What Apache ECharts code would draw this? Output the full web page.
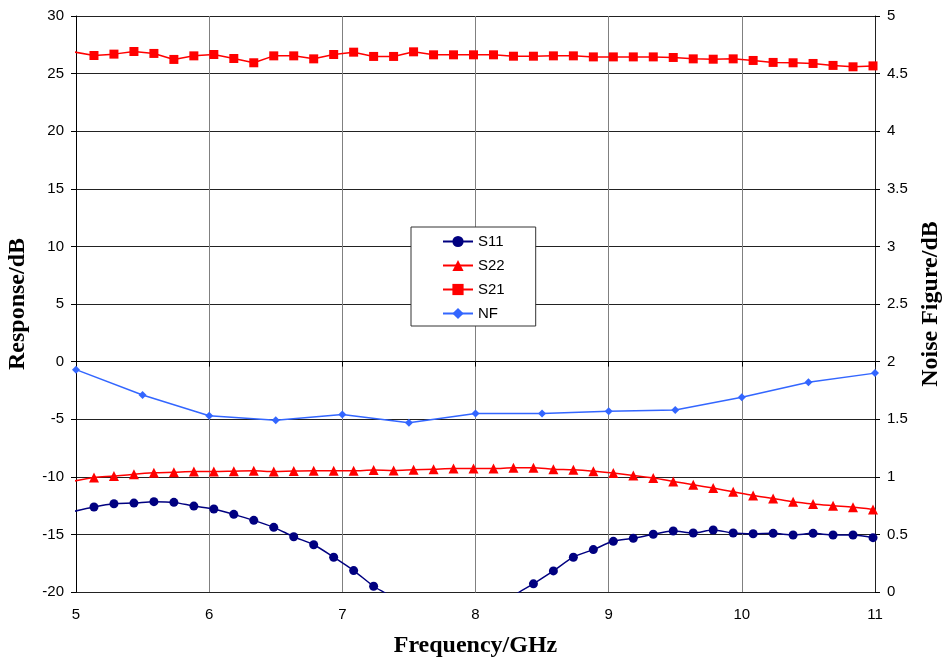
<!DOCTYPE html>
<html>
<head>
<meta charset="utf-8">
<script src="https://cdn.jsdelivr.net/npm/echarts@6/dist/echarts.min.js"></script>
<style>
  html, body { margin: 0; padding: 0; background: #fff; }
  #chart { width: 942px; height: 658px; }
</style>
</head>
<body>
<div id="chart"></div>
<script>
// sweep points (GHz) for the S-parameter traces
var freq = [4.985, 5.135, 5.285, 5.435, 5.585, 5.735, 5.885, 6.035, 6.185, 6.335,
  6.485, 6.635, 6.785, 6.935, 7.085, 7.235, 7.385, 7.535, 7.685, 7.835,
  7.985, 8.135, 8.285, 8.435, 8.585, 8.735, 8.885, 9.035, 9.185, 9.335,
  9.485, 9.635, 9.785, 9.935, 10.085, 10.235, 10.385, 10.535, 10.685, 10.835, 10.985];

var s11 = [-13.0, -12.62, -12.34, -12.28, -12.16, -12.22, -12.54, -12.8, -13.26, -13.78,
  -14.39, -15.2, -15.9, -16.98, -18.14, -19.5, -20.6, -23, -26, -28,
  -26, -23, -20.4, -19.29, -18.17, -16.98, -16.32, -15.6, -15.34, -14.99,
  -14.7, -14.88, -14.62, -14.88, -14.94, -14.91, -15.05, -14.91, -15.05, -15.05, -15.28];

var s22 = [-10.37, -10.06, -9.94, -9.77, -9.65, -9.6, -9.54, -9.54, -9.51, -9.48,
  -9.54, -9.5, -9.48, -9.48, -9.48, -9.42, -9.45, -9.39, -9.34, -9.28,
  -9.28, -9.28, -9.22, -9.22, -9.34, -9.39, -9.51, -9.68, -9.88, -10.11,
  -10.4, -10.69, -10.98, -11.3, -11.62, -11.88, -12.16, -12.36, -12.51, -12.65, -12.83];

var s21 = [26.88, 26.57, 26.69, 26.92, 26.75, 26.23, 26.54, 26.66, 26.31, 25.94,
  26.54, 26.54, 26.28, 26.66, 26.86, 26.49, 26.49, 26.89, 26.63, 26.63,
  26.63, 26.63, 26.51, 26.51, 26.54, 26.54, 26.45, 26.45, 26.45, 26.45,
  26.4, 26.28, 26.25, 26.28, 26.14, 25.97, 25.94, 25.88, 25.71, 25.59, 25.67];

// noise figure measured every 0.5 GHz
var nfFreq = [5, 5.5, 6, 6.5, 7, 7.5, 8, 8.5, 9, 9.5, 10, 10.5, 11];
var nf = [1.93, 1.71, 1.53, 1.49, 1.54, 1.47, 1.55, 1.55, 1.57, 1.58, 1.69, 1.82, 1.90];

function pairs(xs, ys) {
  return xs.map(function (x, i) { return [x, ys[i]]; });
}

var chart = echarts.init(document.getElementById('chart'));

var tickFont = { color: '#000', fontSize: 15, fontFamily: 'Liberation Sans, Arial' };
var titleFont = { color: '#000', fontSize: 24, fontWeight: 'bold', fontFamily: 'Liberation Serif, Times New Roman' };

var option = {
  backgroundColor: '#fff',
  animation: false,
  grid: { left: 76, right: 67, top: 16, bottom: 66, outerBoundsMode: 'none', containLabel: false },
  legend: {
    orient: 'vertical',
    left: 411,
    top: 227,
    backgroundColor: '#fff',
    borderColor: '#333',
    borderWidth: 1,
    borderRadius: 0,
    padding: [7, 31, 5, 31],
    itemWidth: 30,
    itemHeight: 14,
    itemGap: 9,
    textStyle: tickFont,
    data: ['S11', 'S22', 'S21', 'NF']
  },
  xAxis: {
    type: 'value',
    min: 5,
    max: 11,
    interval: 1,
    name: 'Frequency/GHz',
    nameLocation: 'middle',
    nameGap: 42,
    nameTextStyle: titleFont,
    axisLine: { lineStyle: { color: '#000', width: 1 } },
    axisTick: { show: true, length: 5, lineStyle: { color: '#000' } },
    axisLabel: Object.assign({ margin: 15 }, tickFont),
    splitLine: { show: true, lineStyle: { color: '#808080', width: 1 } }
  },
  yAxis: [
    {
      type: 'value',
      min: -20,
      max: 30,
      interval: 5,
      name: 'Response/dB',
      nameLocation: 'middle',
      nameRotate: 90,
      nameGap: 46,
      nameTextStyle: titleFont,
      axisLine: { show: true, lineStyle: { color: '#000', width: 1 } },
      axisTick: { show: true, length: 5, lineStyle: { color: '#000' } },
      axisLabel: Object.assign({ margin: 12 }, tickFont),
      splitLine: { show: true, lineStyle: { color: '#222', width: 1 } }
    },
    {
      type: 'value',
      min: 0,
      max: 5,
      interval: 0.5,
      position: 'right',
      name: 'Noise Figure/dB',
      nameLocation: 'middle',
      nameRotate: 90,
      nameGap: 41,
      nameTextStyle: titleFont,
      axisLine: { show: true, lineStyle: { color: '#222', width: 1 } },
      axisTick: { show: true, length: 5, lineStyle: { color: '#000' } },
      axisLabel: Object.assign({ margin: 12 }, tickFont),
      splitLine: { show: false }
    }
  ],
  series: [
    {
      name: 'S11',
      type: 'line',
      data: pairs(freq, s11),
      smooth: 0.3,
      clip: true,
      symbol: 'circle',
      symbolSize: 9,
      itemStyle: { color: '#000080' },
      lineStyle: { color: '#000080', width: 1.5 },
      z: 4
    },
    {
      name: 'S22',
      type: 'line',
      data: pairs(freq, s22),
      smooth: 0.3,
      clip: true,
      symbol: 'triangle',
      symbolSize: 10,
      itemStyle: { color: '#ff0000' },
      lineStyle: { color: '#ff0000', width: 1.5 },
      z: 3
    },
    {
      name: 'S21',
      type: 'line',
      data: pairs(freq, s21),
      clip: true,
      symbol: 'rect',
      symbolSize: 9,
      itemStyle: { color: '#ff0000' },
      lineStyle: { color: '#ff0000', width: 1.5 },
      z: 3
    },
    {
      name: 'NF',
      type: 'line',
      yAxisIndex: 1,
      data: pairs(nfFreq, nf),
      clip: false,
      symbol: 'diamond',
      symbolSize: 8,
      itemStyle: { color: '#3366ff' },
      lineStyle: { color: '#3366ff', width: 1.5 },
      z: 3
    }
  ]
};

chart.setOption(option);
</script>
</body>
</html>
